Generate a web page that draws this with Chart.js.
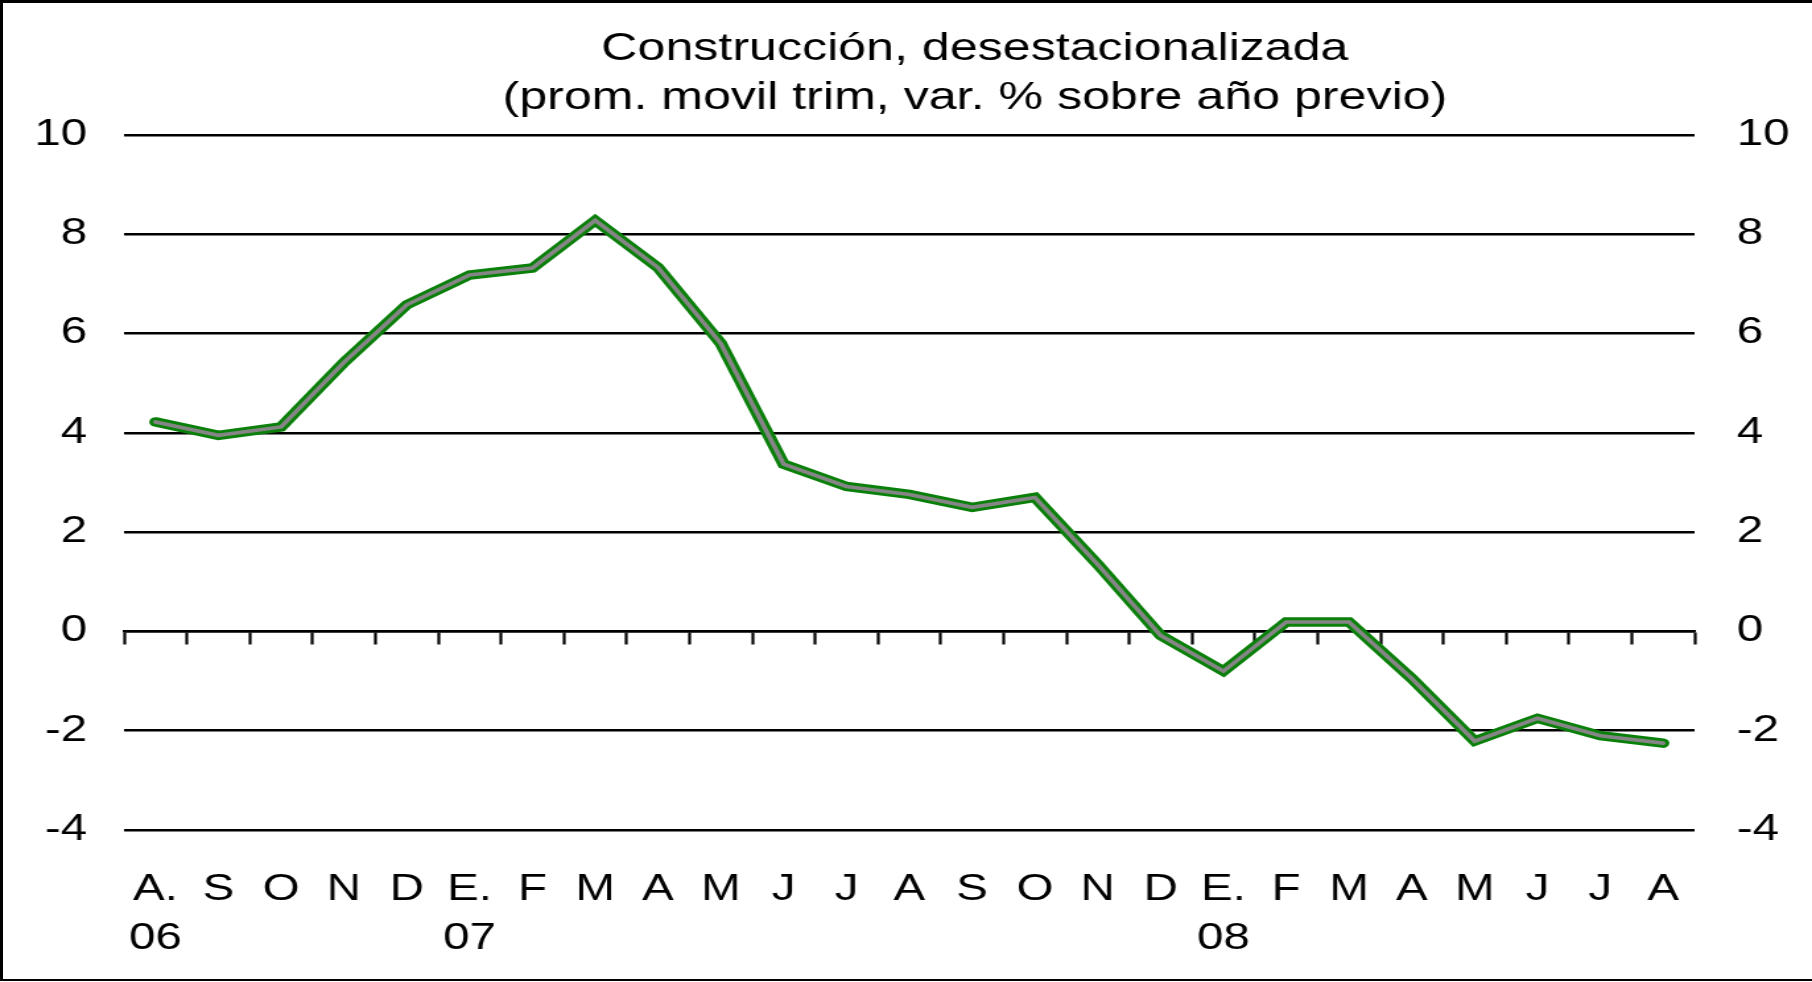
<!DOCTYPE html>
<html>
<head>
<meta charset="utf-8">
<script src="https://cdn.jsdelivr.net/npm/chart.js@4"></script>
<style>
    body { margin: 0; background: #fff; }
    #marco { position: relative; width: 1812px; height: 982px; }
    #grafico { position: absolute; left: 0; top: 0; }
    #borde {
        position: absolute; left: 0; top: 0; width: 1812px; height: 981px;
        box-sizing: border-box; pointer-events: none;
        border-top: 3px solid #000; border-left: 3px solid #000; border-bottom: 2px solid #000;
    }
</style>
</head>
<body>
<div id="marco">
    <canvas id="grafico"></canvas>
    <div id="borde"></div>
</div>
<script>
// datos
const meses = ['A.', 'S', 'O', 'N', 'D', 'E.', 'F', 'M', 'A', 'M', 'J', 'J', 'A',
               'S', 'O', 'N', 'D', 'E.', 'F', 'M', 'A', 'M', 'J', 'J', 'A'];
const anios = ['06', '', '', '', '', '07', '', '', '', '', '', '', '',
               '', '', '', '', '08', '', '', '', '', '', '', ''];
const construccion = [4.22, 3.95, 4.12, 5.42, 6.58, 7.18, 7.32, 8.28, 7.33, 5.8, 3.37, 2.92, 2.76,
                      2.5, 2.7, 1.35, -0.08, -0.8, 0.19, 0.19, -0.95, -2.21, -1.75, -2.1, -2.25];
const titulo = ['Construcción, desestacionalizada', '(prom. movil trim, var. % sobre año previo)'];
const yMin = -4, yMax = 10, yPaso = 2;

const etiquetas = meses.map((m, i) => anios[i] ? [m, anios[i]] : m);

// el original esta estirado a lo ancho
const ESTIRA = 1.32;
const canvas = document.getElementById('grafico');
canvas.width = Math.round(1812 / ESTIRA);
canvas.height = 982;
canvas.style.width = '1812px';
canvas.style.height = '982px';

const fuente = '"Liberation Sans", Arial, sans-serif';
Chart.defaults.font.family = fuente;
Chart.defaults.color = '#000';

const tituloPlugin = {
    id: 'tituloPlugin',
    afterDraw(chart) {
        const c = chart.ctx;
        c.save();
        c.font = '38px ' + fuente;
        c.fillStyle = '#000';
        c.textAlign = 'center';
        c.textBaseline = 'alphabetic';
        let x = chart.width * 0.538;
        c.fillText(titulo[0], x, 60);
        c.fillText(titulo[1], x, 109);
        c.restore();
    }
};

const graph = new Chart(canvas.getContext('2d'), {
    type: 'line',
    data: {
        labels: etiquetas,
        datasets: [{
            label: 'interior',
            data: construccion,
            borderColor: '#858585',
            borderWidth: 3.6,
            borderCapStyle: 'round',
            pointRadius: 0,
            tension: 0,
        }, {
            label: 'Construcción',
            data: construccion,
            borderColor: '#0a800a',
            borderWidth: 9.5,
            borderCapStyle: 'round',
            pointRadius: 0,
            tension: 0,
        }]
    },
    options: {
        responsive: false,
        animation: false,
        devicePixelRatio: 1,
        layout: { padding: { top: 135, left: 0, right: 0, bottom: 0 } },
        scales: {
            x: {
                type: 'category',
                position: 'bottom',
                offset: true,
                grid: { display: false },
                border: { display: false },
                ticks: {
                    autoSkip: false,
                    maxRotation: 0,
                    padding: 28,
                    font: { size: 36, lineHeight: 1.36 },
                },
                afterFit: function(scale) { scale.height = 152; }
            },
            x2: {
                type: 'category',
                position: { y: 0 },
                offset: true,
                grid: {
                    offset: true,
                    drawOnChartArea: false,
                    drawTicks: true,
                    tickLength: 12,
                    tickWidth: 2.2,
                    tickColor: '#000',
                },
                border: { display: true, color: '#000', width: 2.5 },
                ticks: { display: false },
            },
            y: {
                position: 'left',
                min: yMin,
                max: yMax,
                grid: { color: '#000', lineWidth: 2.5, drawTicks: false },
                border: { display: false },
                ticks: { stepSize: yPaso, padding: 28, font: { size: 36 } },
                afterFit: function(scale) { scale.width = 94; }
            },
            y2: {
                position: 'right',
                min: yMin,
                max: yMax,
                grid: { display: false, drawTicks: false },
                border: { display: false },
                ticks: { stepSize: yPaso, padding: 32, font: { size: 36 } },
                afterFit: function(scale) { scale.width = canvas.width - Math.round(1695 / ESTIRA); }
            }
        },
        plugins: {
            legend: { display: false },
            tooltip: { enabled: false },
        }
    },
    plugins: [tituloPlugin]
});
</script>
</body>
</html>
